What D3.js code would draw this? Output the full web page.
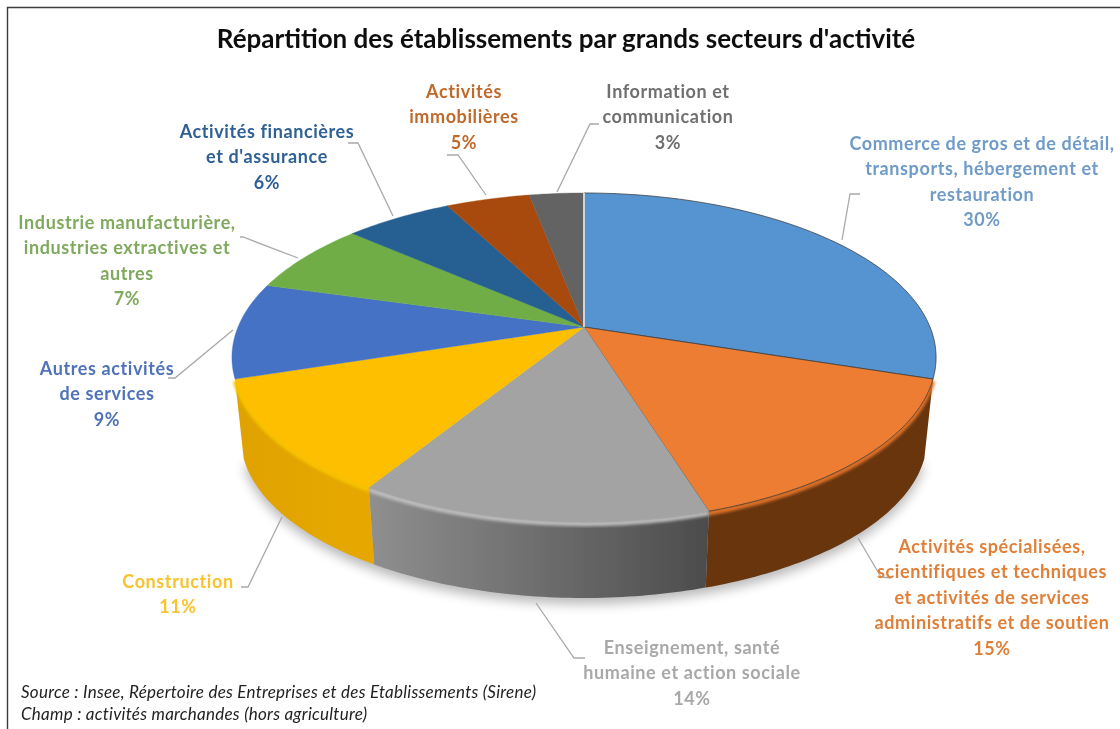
<!DOCTYPE html>
<html><head><meta charset="utf-8">
<script src="https://cdn.jsdelivr.net/npm/d3@7/dist/d3.min.js"></script>
<style>html,body{margin:0;padding:0;background:#fff}svg{display:block}text{font-family:Lato,"Open Sans",sans-serif}</style>
</head><body><svg id="c" width="1120" height="729"></svg>
<script>
const sectors = ["Commerce de gros et de détail, transports, hébergement et restauration","Activités spécialisées, scientifiques et techniques et activités de services administratifs et de soutien","Enseignement, santé humaine et action sociale","Construction","Autres activités de services","Industrie manufacturière, industries extractives et autres","Activités financières et d'assurance","Activités immobilières","Information et communication"];
const shares = [30,15,14,11,9,7,6,5,3];
const topColors = ["#5593d1","#ed7d31","#a3a3a3","#fdbf00","#4472c4","#70ad47","#255e91","#a8490e","#636363"];
const sideLeft  = ["#2f5f8f","#67350f","#8f8f8f","#dfa200","#2a4a85","#4a7a2f","#183f63","#6a300a","#404040"];
const sideRight = ["#2f5f8f","#67350f","#4c4c4c","#e6a800","#2a4a85","#4a7a2f","#183f63","#6a300a","#404040"];
const rimColors = ["#5593d1","#e07228","#bdbdbd","#f8c400","#4472c4","#70ad47","#255e91","#a8490e","#636363"];
const labelColors = ["#6f9bc8","#e07f38","#a8a8a8","#f7c32e","#4f72b8","#7fa95c","#2f5f95","#bf6a2c","#6f6f6f"];
const labelLines = [
 ["Commerce de gros et de détail,","transports, hébergement et","restauration","30%"],
 ["Activités spécialisées,","scientifiques et techniques","et activités de services","administratifs et de soutien","15%"],
 ["Enseignement, santé","humaine et action sociale","14%"],
 ["Construction","11%"],
 ["Autres activités","de services","9%"],
 ["Industrie manufacturière,","industries extractives et","autres","7%"],
 ["Activités financières","et d'assurance","6%"],
 ["Activités","immobilières","5%"],
 ["Information et","communication","3%"]];
const labelCenters = [982,992,692,178,107,127,267,464,668];
const labelFirstBaselines = [150,553,654,588,375,229,138,98,98];
const lineStep = 25.4;
const leaders = [
 [[842,240],[850,194],[860,194]],
 [[858,538],[881,577],[891,578]],
 [[536,603],[574,658],[585,658]],
 [[282,517],[248,587],[241,587]],
 [[233,330],[175,378],[168,378]],
 [[298,258],[243,237],[240,237]],
 [[393,216],[358,143],[348,143]],
 [[486,195],[458,155],[447,155]],
 [[557,192],[590,124],[599,124]]];
const titleText = "Répartition des établissements par grands secteurs d'activité";
const notes = ["Source : Insee, Répertoire des Entreprises et des Etablissements (Sirene)","Champ : activités marchandes (hors agriculture)"];

const svg = d3.select("#c");
const defs = svg.append("defs");
const blur = (id,s)=>defs.append("filter").attr("id",id).attr("x","-10%").attr("y","-10%").attr("width","120%").attr("height","120%")
  .append("feGaussianBlur").attr("stdDeviation",s);
blur("soft",0.55); blur("rim",1.6); blur("shadow",6);

const pie=d3.pie().sort(null).startAngle(0).endAngle(2*Math.PI);
const arcs=pie(shares);
// Perspective projection of a flat disc; the small nudges mimic the skew of the 3-D renderer
const cx=584, cy=327, R=346, C=158.8, K=0.185;
const boundaryNudge=[0,0,.0125,-.014,0,.026,.03,.025,0,0];
const bounds=[0].concat(arcs.map(d=>d.endAngle));
const warp=d3.scaleLinear().domain(bounds).range(bounds.map((b,i)=>b+boundaryNudge[i]));
function proj(a0,drop,scale){
  const a=warp(a0), x=Math.sin(a), y=-Math.cos(a), w=1-K*y;
  return [cx+scale*R*x/w, cy+drop+scale*C*y/w];
}
const line=d3.line();
const arcPts=(a0,a1,drop,scale)=>{const n=Math.max(6,Math.ceil((a1-a0)*60));return d3.range(n+1).map(i=>proj(a0+(a1-a0)*i/n,drop,scale));};
const DROP=81,S=0.975;
const front=arcs.map((d,i)=>i).filter(i=>arcs[i].startAngle>=Math.PI/2 && arcs[i].endAngle<=Math.PI*1.5);
const root=svg.append("g").attr("filter","url(#soft)");

root.append("rect").attr("width",1120).attr("height",729).attr("fill","#fff");
root.append("path").attr("d",line([[7.5,729],[7.5,7.5],[1120,7.5]])).attr("fill","none").attr("stroke","#3a3a3a").attr("stroke-width",1.4);

// shadow
const fa=arcs[front[0]].startAngle, fb=arcs[front[front.length-1]].endAngle;
root.append("path").attr("d",line(arcPts(fa,fb,DROP+6,S))+"Z").attr("fill","#000").attr("opacity",.28).attr("filter","url(#shadow)");

// sides
front.forEach(i=>{
  const d=arcs[i];
  const top=arcPts(d.startAngle,d.endAngle,0,1), bot=arcPts(d.startAngle,d.endAngle,DROP,S).reverse();
  const xs=top.map(p=>p[0]);
  const gid="side"+i;
  const g=defs.append("linearGradient").attr("id",gid).attr("gradientUnits","userSpaceOnUse")
    .attr("x1",d3.min(xs)).attr("x2",d3.max(xs)).attr("y1",0).attr("y2",0);
  g.append("stop").attr("offset",0).attr("stop-color",sideLeft[i]);
  g.append("stop").attr("offset",1).attr("stop-color",sideRight[i]);
  root.append("path").attr("d",line(top.concat(bot))+"Z").attr("fill",`url(#${gid})`);
});
// bevel glow along the rim
front.forEach(i=>{
  const d=arcs[i];
  root.append("path").attr("d",line(arcPts(d.startAngle,d.endAngle,2,0.999))).attr("fill","none")
   .attr("stroke",rimColors[i]).attr("stroke-width",5).attr("filter","url(#rim)");
});
// top
arcs.forEach((d,i)=>{
  root.append("path").attr("d",line([[cx,cy]].concat(arcPts(d.startAngle,d.endAngle,0,1)))+"Z")
   .attr("fill",topColors[i]).attr("stroke",i<2?"#3b3b3b":topColors[i]).attr("stroke-width",i<2?1:.4).attr("stroke-opacity",i<2?.75:1);
});
root.append("path").attr("d",line([[cx,cy],proj(0,0,1)])).attr("stroke","#f0f0f0").attr("stroke-width",1.6);

// leaders
root.selectAll("path.leader").data(leaders).join("path").attr("class","leader")
  .attr("d",d=>line(d)).attr("fill","none").attr("stroke","#a9a9a9").attr("stroke-width",1.3);

// labels
labelLines.forEach((ls,i)=>{
  root.append("text").attr("text-anchor","middle").attr("font-weight",700).attr("font-size",18).attr("letter-spacing",.6).attr("fill",labelColors[i])
   .selectAll("tspan").data(ls).join("tspan").attr("x",labelCenters[i]).attr("y",(d,j)=>labelFirstBaselines[i]+j*lineStep).text(d=>d);
});
root.append("text").attr("x",566).attr("y",48).attr("text-anchor","middle").attr("font-weight",700).attr("font-size",26).attr("fill","#111").text(titleText);
root.selectAll("text.note").data(notes).join("text").attr("class","note").attr("x",21).attr("y",(d,i)=>698+i*21.5)
  .attr("font-style","italic").attr("font-size",17).attr("letter-spacing",.25).attr("fill","#222").text(d=>d);
</script></body></html>
